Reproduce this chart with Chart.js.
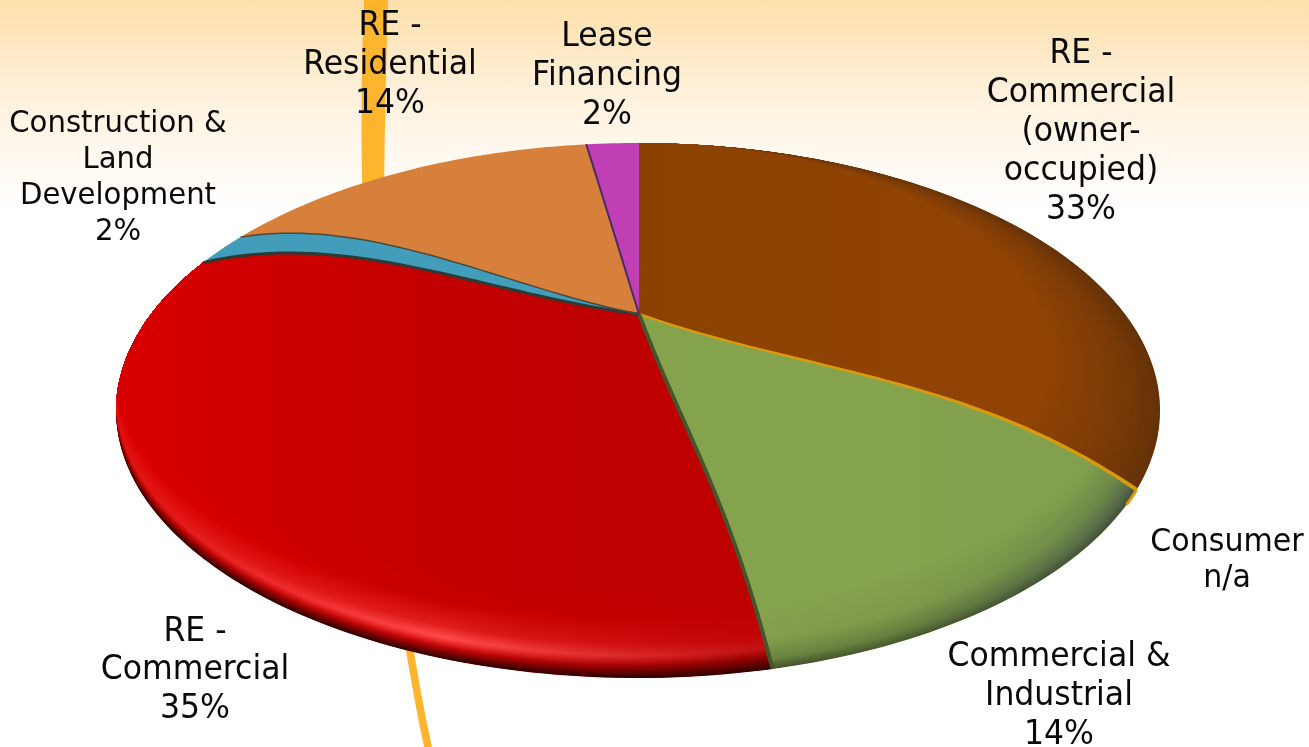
<!DOCTYPE html>
<html>
<head>
<meta charset="utf-8">
<title>Loan mix</title>
<script src="https://cdn.jsdelivr.net/npm/chart.js@4"></script>
<style>
	html, body { margin: 0; padding: 0; width: 1309px; height: 747px; overflow: hidden;
		background: linear-gradient(#fddfa9 0, #fef0da 90px, #fff8ee 150px, #fff 215px); }
	#canvas-container { position: absolute; left: 0; top: 0; width: 1309px; height: 747px; }
</style>
</head>
<body>
<div id="canvas-container"><canvas id="loan_chart" width="1309" height="747"></canvas></div>
<script>
// data, clockwise from 12 o'clock
const sliceNames = ['RE -\nCommercial\n(owner-\noccupied)', 'Consumer', 'Commercial &\nIndustrial', 'RE -\nCommercial', 'Construction &\nLand\nDevelopment', 'RE -\nResidential', 'Lease\nFinancing'];
const sliceValues = [33, 0.1, 14, 35, 2, 14, 2];   // Consumer is n/a, only a hairline in the picture
const sliceValueText = ['33%', 'n/a', '14%', '35%', '2%', '14%', '2%'];
const sliceColors = ['#8f4304', '#e0a010', '#85a24c', '#c40000', '#429dba', '#d6803c', '#c03fb5'];
const edgeColors = ['#d79a10', '#d79a10', '#46552e', '#2f3a34', '#4a4a3c', '#4a2a6a', '#c03fb5'];
const edgeWidths = [2, 2, 4, 3, 1.5, 2, 0];

// label placement: centre x, first line centre y, line height, font size
const labelSpots = [
	[1081, 54, 39, 33], [1227, 543, 36, 31.5], [1059, 657, 39, 33], [195, 632, 38.5, 33],
	[118, 124, 36, 30.5], [390, 26, 39, 33], [607, 37, 39, 33]
];
const labelSqueeze = 0.955;

// shape of the tilted disc
const disc = { cx: 638, cy: 410.5, rx: 522, ry: 267.5, ax: 639, ay: 314, tilt: 0.478, dome: 165 };
const consumerLip = 0.055;   // gold lip running past the hairline slice, radians

// rim shading per slice: depth from the rim -> colour at left, middle, right of the slice
const sliceShades = [
	{ x0: 640, x1: 1160, mid: 0.5, xs: 1, stops: [
		[0, '#643208', '#643208', '#643208'], [40, '#7a3a06', '#7a3a06', '#7a3a06'],
		[110, '#8b4200', '#904304', '#904304'] ] },
	null,
	{ x0: 640, x1: 1135, mid: 0.5, xs: 0.5, stops: [
		[0, '#3f4a2a', '#4a5a30', '#44503a'], [10, '#6f8a42', '#66803e', '#55684a'],
		[30, '#85a24c', '#7f9b4a', '#6b8648'], [70, '#86a34c', '#85a24c', '#80a04e'] ] },
	{ x0: 116, x1: 771, mid: 0.5, xs: 0, stops: [
		[0, '#2e0000', '#300000', '#2e0000'], [6, '#6a0000', '#7a0000', '#600000'],
		[12, '#a80000', '#c00808', '#8a0000'], [18, '#cc0808', '#f53030', '#b00a0a'],
		[22, '#dc1010', '#ff4a4a', '#c01010'], [34, '#e01010', '#e01c1c', '#c00404'],
		[60, '#dc0000', '#c60000', '#bf0000'], [90, '#d80000', '#c20000', '#bd0000'] ] },
	null, null, null
];

function warpAngle(t) {
	// foreshortening of the 3D pie
	const k = Math.PI / 180;
	return t + 10.5 * k * Math.sin(t) + 2 * k * Math.sin(2 * t) - 1.5 * k * Math.sin(3 * t);
}

function discPoint(theta, r) {
	const w = warpAngle(theta);
	const dx = Math.sin(w), dy = -Math.cos(w) * disc.tilt;
	const ox = (disc.ax - disc.cx) / disc.rx, oy = (disc.ay - disc.cy) / disc.ry;
	const ex = dx / disc.rx, ey = dy / disc.ry;
	const a = ex * ex + ey * ey, b = 2 * (ox * ex + oy * ey), c = ox * ox + oy * oy - 1;
	const t = (-b + Math.sqrt(b * b - 4 * a * c)) / (2 * a);
	// rays pointing away from the viewer show almost no dome
	const up = Math.max(0, Math.cos(w));
	const dome = disc.dome * (1 - up * up);
	return {
		x: disc.ax + dx * t * r,
		y: disc.ay + dy * t * r - dome * r * r * (1 - r)
	};
}

function traceRay(ctx, theta, fromCentre) {
	for (let i = 0; i <= 40; i++) {
		const r = fromCentre ? i / 40 : 1 - i / 40;
		const p = discPoint(theta, r);
		ctx.lineTo(p.x, p.y);
	}
}

function traceSlice(ctx, t0, t1) {
	ctx.beginPath();
	ctx.moveTo(disc.ax, disc.ay);
	traceRay(ctx, t0, true);
	const steps = Math.max(2, Math.ceil((t1 - t0) * 60));
	for (let i = 1; i <= steps; i++) {
		const p = discPoint(t0 + (t1 - t0) * i / steps, 1);
		ctx.lineTo(p.x, p.y);
	}
	traceRay(ctx, t1, false);
	ctx.closePath();
}

function toRgb(hex) {
	return [1, 3, 5].map(i => parseInt(hex.substr(i, 2), 16));
}
function mix(a, b, f) {
	const ca = toRgb(a), cb = toRgb(b);
	return 'rgb(' + ca.map((v, i) => Math.round(v + (cb[i] - v) * f)).join(',') + ')';
}

function paintShade(ctx, shade) {
	const last = shade.stops[shade.stops.length - 1][0];
	for (let d = 0; d <= last; d += 1) {
		let k = 0;
		while (k < shade.stops.length - 2 && shade.stops[k + 1][0] <= d) k++;
		const s0 = shade.stops[k], s1 = shade.stops[k + 1];
		const f = (d - s0[0]) / (s1[0] - s0[0]);
		const g = ctx.createLinearGradient(shade.x0, 0, shade.x1, 0);
		g.addColorStop(0, mix(s0[1], s1[1], f));
		g.addColorStop(shade.mid, mix(s0[2], s1[2], f));
		g.addColorStop(1, mix(s0[3], s1[3], f));
		ctx.fillStyle = g;
		ctx.beginPath();
		ctx.ellipse(disc.cx, disc.cy - d / 2, disc.rx - d * shade.xs, disc.ry - d / 2, 0, 0, Math.PI * 2);
		ctx.fill();
	}
}

// swoosh behind the pie
const swooshPlugin = {
	id: 'swoosh',
	beforeDatasetsDraw(chart) {
		const ctx = chart.ctx;
		ctx.save();
		ctx.fillStyle = '#fdb52e';
		ctx.beginPath();
		ctx.moveTo(364, 0);
		ctx.lineTo(388, 0);
		ctx.bezierCurveTo(382, 220, 375, 480, 432, 747);
		ctx.lineTo(424, 747);
		ctx.bezierCurveTo(370, 480, 355, 220, 364, 0);
		ctx.closePath();
		ctx.fill();
		ctx.restore();
	}
};

// the default arc has no perspective, so draw the library's arcs through discPoint
const tiltedPiePlugin = {
	id: 'tiltedPie',
	beforeDatasetDraw(chart, args) {
		const ctx = chart.ctx;
		const arcs = args.meta.data;
		arcs.forEach((arc, i) => {
			const t0 = arc.startAngle + Math.PI / 2, t1 = arc.endAngle + Math.PI / 2;
			ctx.save();
			traceSlice(ctx, t0, t1);
			ctx.fillStyle = arc.options.backgroundColor;
			ctx.fill();
			ctx.clip();
			if (sliceShades[i]) paintShade(ctx, sliceShades[i]);
			ctx.restore();
		});
		arcs.forEach((arc, i) => {
			if (!arc.options.borderWidth) return;
			const t1 = arc.endAngle + Math.PI / 2;
			ctx.save();
			ctx.strokeStyle = arc.options.borderColor;
			ctx.lineWidth = arc.options.borderWidth;
			ctx.beginPath();
			ctx.moveTo(disc.ax, disc.ay);
			traceRay(ctx, t1, true);
			ctx.stroke();
			ctx.restore();
		});
		// Consumer lip on the rim
		const consumerEnd = arcs[1].endAngle + Math.PI / 2;
		ctx.save();
		ctx.strokeStyle = arcs[1].options.borderColor;
		ctx.lineWidth = 3;
		ctx.lineCap = 'round';
		ctx.beginPath();
		for (let i = 0; i <= 8; i++) {
			const p = discPoint(consumerEnd + consumerLip * i / 8, 1);
			ctx.lineTo(p.x, p.y);
		}
		ctx.stroke();
		ctx.restore();
		return false;
	}
};

const sliceLabelPlugin = {
	id: 'sliceLabels',
	afterDraw(chart) {
		const ctx = chart.ctx;
		ctx.save();
		ctx.fillStyle = '#0a0a0a';
		ctx.textAlign = 'center';
		ctx.textBaseline = 'middle';
		chart.data.labels.forEach((name, i) => {
			const spot = labelSpots[i];
			ctx.font = spot[3] + 'px "DejaVu Sans"';
			name.split('\n').concat(sliceValueText[i]).forEach((line, n) => {
				ctx.save();
				ctx.translate(spot[0], spot[1] + n * spot[2]);
				ctx.scale(labelSqueeze, 1);
				ctx.fillText(line, 0, 0);
				ctx.restore();
			});
		});
		ctx.restore();
	}
};

new Chart(document.getElementById('loan_chart').getContext('2d'), {
	type: 'pie',
	data: {
		labels: sliceNames,
		datasets: [{
			data: sliceValues,
			backgroundColor: sliceColors,
			borderColor: edgeColors,
			borderWidth: edgeWidths
		}]
	},
	options: {
		responsive: false,
		animation: false,
		plugins: { legend: { display: false }, tooltip: { enabled: false } }
	},
	plugins: [swooshPlugin, tiltedPiePlugin, sliceLabelPlugin]
});
</script>
</body>
</html>
